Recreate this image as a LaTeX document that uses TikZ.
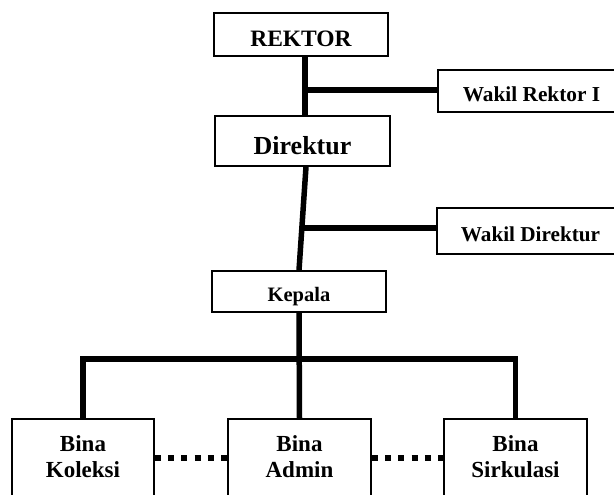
\documentclass[tikz,border=0pt]{standalone}
\usepackage{fontspec}
\setmainfont{Liberation Serif}
\usepackage{tikz}
\tikzset{block/.style={draw, fill=white, rectangle, line width=1.5pt, inner sep=0pt,
  font=\fontsize{#1}{#1}\selectfont\bfseries, text height=#1pt, text depth=0pt}}
\tikzstyle{unit} = [draw, fill=white, rectangle, line width=1.5pt, inner sep=0pt, anchor=north,
  minimum width=143pt, text height=33pt, text depth=100pt, font=\fontsize{23}{26}\selectfont\bfseries]
\tikzstyle{link} = [line width=5.5pt]
\tikzstyle{dotlink} = [line width=6pt, dash pattern=on 6pt off 7.3pt]
\newcommand{\twolines}[2]{\begin{tabular}[t]{@{}c@{}}#1\\#2\end{tabular}}

\begin{document}
\begin{tikzpicture}[x=1pt,y=-1pt]
  \useasboundingbox (0,0) rectangle (614,495);
  \fill[white] (0,0) rectangle (614,495);
  \clip (0,0) rectangle (614,495);
  % upper levels
  \node[block=23.5, minimum width=174pt, minimum height=43pt] (rektor) at (301,34.5) {REKTOR};
  \node[block=26, minimum width=175pt, minimum height=50pt] (direktur) at (302.5,141) {Direktur};
  \node[block=21.3, minimum width=187pt, minimum height=42pt] (wakilrektor) at (531.5,91) {Wakil Rektor I};
  \node[block=21.2, minimum width=187pt, minimum height=46pt] (wakildirektur) at (530.5,231) {Wakil Direktur};
  \node[block=20.5, minimum width=174pt, minimum height=41pt] (kepala) at (299,291.5) {Kepala};
  % units
  \node[unit, minimum width=142pt] (koleksi) at (83,418) {\twolines{Bina}{Koleksi}};
  \node[unit] (admin) at (299.5,418) {\twolines{Bina}{Admin}};
  \node[unit] (sirkulasi) at (515.5,418) {\twolines{Bina}{Sirkulasi}};
  \coordinate (j1) at (305,90);
  \coordinate (j2) at (302,228);
  \coordinate (bus) at (299,359);
  \coordinate (dots) at (0,458);
  \draw[link] (rektor.south -| j1) -- (direktur.north -| j1);
  \draw[link] (j1) -- (wakilrektor.west |- j1);
  \draw[link] ([xshift=3.5pt]direktur.south) -- (kepala.north);
  \draw[link] (j2) -- (wakildirektur.west |- j2);
  \draw[link] (kepala.south) -- (admin.north);
  \draw[link] (koleksi.north) |- (bus) -| (sirkulasi.north);
  \draw[dotlink] (koleksi.east |- dots) -- (admin.west |- dots);
  \draw[dotlink] (admin.east |- dots) -- (sirkulasi.west |- dots);
\end{tikzpicture}
\end{document}
